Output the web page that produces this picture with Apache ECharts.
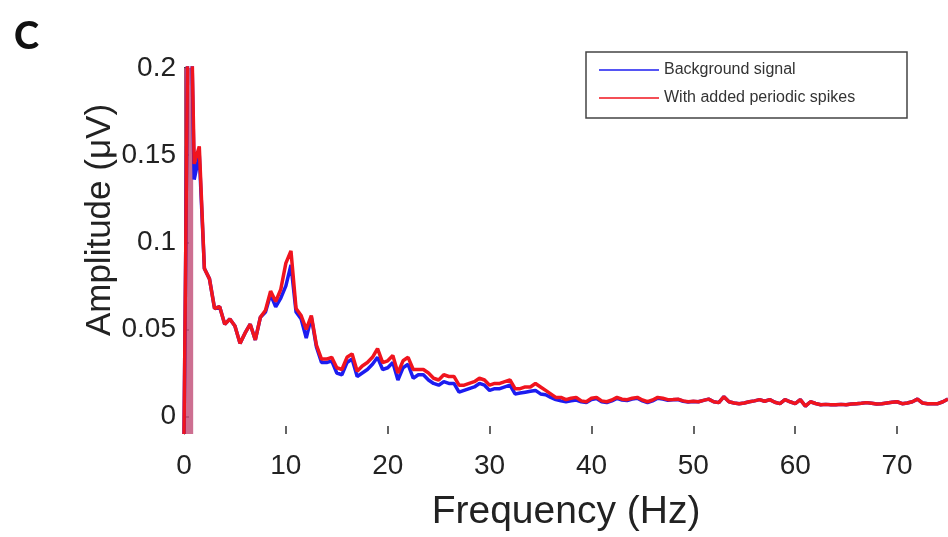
<!DOCTYPE html>
<html>
<head>
<meta charset="utf-8">
<script src="https://cdn.jsdelivr.net/npm/echarts@6/dist/echarts.min.js"></script>
<style>
  html, body { margin: 0; padding: 0; background: #fff; }
  #chart { width: 948px; height: 537px; }
</style>
</head>
<body>
<div id="chart"></div>
<script>
// Frequency bins (Hz), 0.5 Hz spacing from 0 to 75
const freqStart = 0;
const freqStep = 0.5;

// Amplitude spectrum of the background EEG (µV)
const backgroundSignal = [
  -0.01, 0.3, 0.136, 0.15, 0.085, 0.079, 0.062, 0.063, 0.053, 0.056,
  0.052, 0.042, 0.048, 0.053, 0.044, 0.057, 0.06, 0.07, 0.063, 0.068,
  0.075, 0.087, 0.06, 0.056, 0.045, 0.057, 0.04, 0.031, 0.031, 0.032,
  0.025, 0.024, 0.031, 0.033, 0.023, 0.025, 0.027, 0.03, 0.034, 0.027,
  0.028, 0.031, 0.021, 0.028, 0.03, 0.022, 0.024, 0.024, 0.021, 0.019,
  0.018, 0.02, 0.019, 0.019, 0.014, 0.015, 0.016, 0.017, 0.019, 0.018,
  0.015, 0.016, 0.016, 0.017, 0.018, 0.013, 0.0135, 0.014, 0.0145, 0.015,
  0.013, 0.0125, 0.011, 0.0097, 0.009, 0.0085, 0.009, 0.0095, 0.0085, 0.008,
  0.0098, 0.0104, 0.0085, 0.008, 0.009, 0.0104, 0.0095, 0.0092, 0.01, 0.0105,
  0.009, 0.008, 0.009, 0.0105, 0.01, 0.0094, 0.0096, 0.0098, 0.0088, 0.0083,
  0.0086, 0.0085, 0.0093, 0.01, 0.0085, 0.008, 0.0114, 0.0085, 0.0078, 0.0074,
  0.0078, 0.0085, 0.009, 0.0097, 0.0088, 0.0097, 0.0082, 0.0074, 0.0097, 0.0085,
  0.0074, 0.0097, 0.006, 0.0085, 0.0075, 0.0068, 0.007, 0.0068, 0.0068, 0.007,
  0.0068, 0.0072, 0.0074, 0.0076, 0.008, 0.0076, 0.0072, 0.0074, 0.0078, 0.0082,
  0.0085, 0.0074, 0.0078, 0.0085, 0.01, 0.0078, 0.0074, 0.0074, 0.0074, 0.0085,
  0.01
];

// Same recording with periodic spikes added (µV)
const withSpikes = [
  -0.01, 0.3, 0.145, 0.155, 0.085, 0.079, 0.062, 0.063, 0.053, 0.056,
  0.052, 0.042, 0.048, 0.053, 0.044, 0.057, 0.061, 0.072, 0.066, 0.073,
  0.088, 0.095, 0.062, 0.058, 0.05, 0.058, 0.041, 0.033, 0.033, 0.034,
  0.028, 0.027, 0.034, 0.036, 0.026, 0.029, 0.031, 0.034, 0.039, 0.031,
  0.032, 0.035, 0.025, 0.032, 0.034, 0.027, 0.027, 0.027, 0.025, 0.022,
  0.021, 0.024, 0.023, 0.023, 0.018, 0.018, 0.019, 0.02, 0.022, 0.021,
  0.018, 0.019, 0.019, 0.02, 0.021, 0.016, 0.016, 0.017, 0.017, 0.019,
  0.017, 0.015, 0.013, 0.011, 0.011, 0.0097, 0.0105, 0.011, 0.009, 0.0085,
  0.0105, 0.011, 0.009, 0.0085, 0.0095, 0.011, 0.01, 0.0097, 0.0105, 0.011,
  0.0095, 0.0085, 0.0095, 0.011, 0.0105, 0.0097, 0.0098, 0.01, 0.009, 0.0085,
  0.0088, 0.0085, 0.0093, 0.01, 0.0085, 0.008, 0.0114, 0.0085, 0.0078, 0.0074,
  0.0078, 0.0085, 0.009, 0.0097, 0.0088, 0.0097, 0.0082, 0.0074, 0.0097, 0.0085,
  0.0074, 0.0097, 0.006, 0.0085, 0.0075, 0.0068, 0.007, 0.0068, 0.0068, 0.007,
  0.0068, 0.0072, 0.0074, 0.0076, 0.008, 0.0076, 0.0072, 0.0074, 0.0078, 0.0082,
  0.0085, 0.0074, 0.0078, 0.0085, 0.01, 0.0078, 0.0074, 0.0074, 0.0074, 0.0085,
  0.01
];

// Low-frequency (DC) region that saturates the scale
const dcBand = [0, 0.9];

// Tick positions
const xTicks = [0, 10, 20, 30, 40, 50, 60, 70];
const yTicks = [0, 0.05, 0.1, 0.15, 0.2];

const seriesNames = ['Background signal', 'With added periodic spikes'];

function toPairs(values) {
  return values.map((v, i) => [freqStart + i * freqStep, v]);
}

const chart = echarts.init(document.getElementById('chart'), null, { renderer: 'canvas' });

const labelFont = '"Liberation Sans", Arial, sans-serif';

chart.setOption({
  animation: false,
  backgroundColor: '#ffffff',
  title: {
    text: 'C',
    left: 9,
    top: 13,
    textStyle: { fontFamily: 'Lato, "Liberation Sans", sans-serif', fontWeight: 900, fontSize: 38, color: '#111' }
  },
  grid: { left: 184, top: 68, width: 766, height: 369, containLabel: false },
  legend: {
    orient: 'vertical',
    left: 586,
    top: 52,
    data: seriesNames,
    backgroundColor: '#fff',
    borderColor: '#444',
    borderWidth: 1.5,
    borderRadius: 0,
    padding: [8, 11, 10, 12],
    itemGap: 8,
    itemWidth: 60,
    itemHeight: 20,
    itemStyle: { opacity: 0 },
    lineStyle: { width: 2, opacity: 0.75 },
    textStyle: { fontFamily: labelFont, fontSize: 16, color: '#333', width: 232, lineHeight: 20 }
  },
  xAxis: {
    type: 'value',
    min: 0,
    max: 75,
    name: 'Frequency (Hz)',
    nameLocation: 'middle',
    nameGap: 59,
    nameTextStyle: { fontFamily: labelFont, fontSize: 39, color: '#222' },
    axisLine: { show: false, onZero: false },
    axisTick: { show: true, inside: true, length: 8, customValues: xTicks, lineStyle: { color: '#333', width: 1.5 } },
    axisLabel: {
      fontFamily: labelFont, fontSize: 28, color: '#222', margin: 18,
      customValues: xTicks
    },
    splitLine: { show: false }
  },
  yAxis: {
    type: 'value',
    min: -0.01,
    max: 0.2,
    axisLine: { show: true, onZero: false, lineStyle: { color: '#222', width: 1 } },
    axisTick: { show: true, inside: true, length: 5, customValues: yTicks, lineStyle: { color: '#222', width: 1.5 } },
    axisLabel: {
      fontFamily: labelFont, fontSize: 28, color: '#222', margin: 8,
      customValues: yTicks,
      formatter: v => String(+v.toFixed(2))
    },
    splitLine: { show: false }
  },
  graphic: [{
    type: 'text',
    x: 100,
    y: 220,
    rotation: Math.PI / 2,
    style: {
      text: 'Amplitude (\u03bcV)',
      font: '35px "Liberation Sans", Arial, sans-serif',
      fill: '#222',
      align: 'center',
      verticalAlign: 'middle'
    }
  }],
  series: [
    {
      name: seriesNames[0],
      type: 'line',
      data: toPairs(backgroundSignal),
      symbol: 'none',
      clip: true,
      color: '#1c1cf0',
      lineStyle: { color: '#1c1cf0', width: 3.5 },
      z: 2
    },
    {
      name: seriesNames[1],
      type: 'line',
      data: toPairs(withSpikes),
      symbol: 'none',
      clip: true,
      color: '#f0141e',
      lineStyle: { color: '#f0141e', width: 3.5 },
      z: 3,
      markArea: {
        silent: true,
        itemStyle: { color: 'rgba(196, 86, 126, 0.85)' },
        data: [[{ xAxis: dcBand[0], yAxis: -0.01 }, { xAxis: dcBand[1], yAxis: 0.2 }]]
      }
    }
  ]
});
</script>
</body>
</html>
